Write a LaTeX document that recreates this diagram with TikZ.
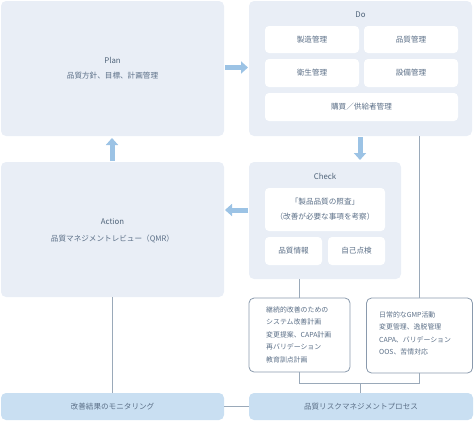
\documentclass[tikz,border=0pt]{standalone}
\usepackage{fontspec}
\setmainfont{Noto Sans CJK JP}
\usetikzlibrary{arrows.meta}
\definecolor{outerfill}{HTML}{E9EEF6}
\definecolor{bluefill}{HTML}{C9DFF2}
\definecolor{arrowblue}{HTML}{9CC3E5}
\definecolor{txt}{HTML}{5B6F87}
\definecolor{lbl}{HTML}{4F6379}
\definecolor{linecol}{HTML}{9AA9B9}
\definecolor{bordercol}{HTML}{8A9AAD}
\tikzset{
  outerbox/.style={rectangle, rounded corners=5pt, fill=outerfill, draw=none, inner sep=0pt},
  innerbox/.style={rectangle, rounded corners=4pt, fill=white, draw=none, inner sep=0pt, text=txt, font=\fontsize{7.6}{9}\selectfont},
  bluebox/.style={rectangle, rounded corners=5pt, fill=bluefill, draw=none, inner sep=0pt, text=txt, font=\fontsize{7.6}{9}\selectfont},
  notebox/.style={rectangle, rounded corners=5pt, fill=white, draw=bordercol, line width=0.8pt, inner sep=0pt},
  ttl/.style={text=lbl, font=\fontsize{7.8}{9}\selectfont},
  sub/.style={text=txt, font=\fontsize{7.6}{9}\selectfont},
  notetxt/.style={text=txt, font=\fontsize{6.9}{12.4}\selectfont, align=left, inner sep=0pt, anchor=north west},
  conn/.style={draw=linecol, line width=0.8pt},
  bigarrow/.style={draw=arrowblue, line width=5pt, -{Triangle[width=12pt,length=7pt]}, shorten >=0pt}
}
\begin{document}
\begin{tikzpicture}[x=1pt,y=-1pt]
\useasboundingbox (0,0) rectangle (474,421);
% outer boxes
\node[outerbox, minimum width=223pt, minimum height=135pt] (plan) at (112.5,68.5) {};
\node[outerbox, minimum width=223pt, minimum height=135pt] (do) at (360.5,68.5) {};
\node[outerbox, minimum width=152pt, minimum height=117pt] (check) at (325,220.5) {};
\node[outerbox, minimum width=223pt, minimum height=135pt] (action) at (112.5,229.5) {};
% plan text
\node[ttl] (plantitle) at (112.5,60) {Plan};
\node[sub] (plansub) at (112.5,76) {品質方針、目標、計画管理};
% action text
\node[ttl] (actiontitle) at (112.5,222) {Action};
\node[sub] (actionsub) at (112.5,239) {品質マネジメントレビュー（QMR）};
% do
\node[ttl] (dotitle) at (360.5,15) {Do};
\node[innerbox, minimum width=94pt, minimum height=27pt] (d1) at (312,39.5) {製造管理};
\node[innerbox, minimum width=94pt, minimum height=27pt] (d2) at (411,39.5) {品質管理};
\node[innerbox, minimum width=94pt, minimum height=28pt] (d3) at (312,73) {衛生管理};
\node[innerbox, minimum width=94pt, minimum height=28pt] (d4) at (411,73) {設備管理};
\node[innerbox, minimum width=193pt, minimum height=28pt] (d5) at (361.5,107) {購買／供給者管理};
% check
\node[ttl] (checktitle) at (325,176) {Check};
\node[innerbox, minimum width=120pt, minimum height=43pt] (c1) at (325,209.5) {};
\node[sub] (c1a) at (325,202) {「製品品質の照査」};
\node[sub] (c1b) at (325,217) {（改善が必要な事項を考察）};
\node[innerbox, minimum width=57pt, minimum height=28pt] (c2) at (293.5,251) {品質情報};
\node[innerbox, minimum width=57pt, minimum height=28pt] (c3) at (356.5,251) {自己点検};
% note boxes
\node[notebox, minimum width=101pt, minimum height=74pt] (ll) at (299.5,335) {};
\node[notetxt] (lltxt) at (266,306.5) {継続的改善のための\\システム改善計画\\変更提案、CAPA計画\\再バリデーション\\教育訓点計画};
\node[notebox, minimum width=106pt, minimum height=75pt] (lr) at (419.5,335.5) {};
\node[notetxt] (lrtxt) at (379,311.5) {日常的なGMP活動\\変更管理、逸脱管理\\CAPA、バリデーション\\OOS、苦情対応};
% bottom boxes
\node[bluebox, minimum width=223pt, minimum height=27pt] (mon) at (112.5,406.5) {改善結果のモニタリング};
\node[bluebox, minimum width=224pt, minimum height=27pt] (risk) at (361,406.5) {品質リスクマネジメントプロセス};
% connectors
\draw[conn] (do.south -| lr.north) -- (lr.north);
\draw[conn] (check.south -| ll.north) -- (ll.north);
\draw[conn] (action.south) -- (mon.north);
\draw[conn] (mon.east) -- (risk.west);
\coordinate (jl) at (299.5,383);
\coordinate (jr) at (419.5,383);
\coordinate (jm) at (360,383);
\draw[conn] (ll.south) -- (jl) -- (jr) -- (lr.south);
\draw[conn] (jm) -- (jm |- risk.north);
% arrows
\coordinate (a1s) at (225,67.5);
\coordinate (a1e) at (248,67.5);
\coordinate (a2s) at (360,137);
\coordinate (a2e) at (360,160);
\coordinate (a3s) at (248,210);
\coordinate (a3e) at (225,210);
\coordinate (a4s) at (112,161);
\coordinate (a4e) at (112,138);
\draw[bigarrow] (a1s) -- (a1e);
\draw[bigarrow] (a2s) -- (a2e);
\draw[bigarrow] (a3s) -- (a3e);
\draw[bigarrow] (a4s) -- (a4e);
\end{tikzpicture}
\end{document}
